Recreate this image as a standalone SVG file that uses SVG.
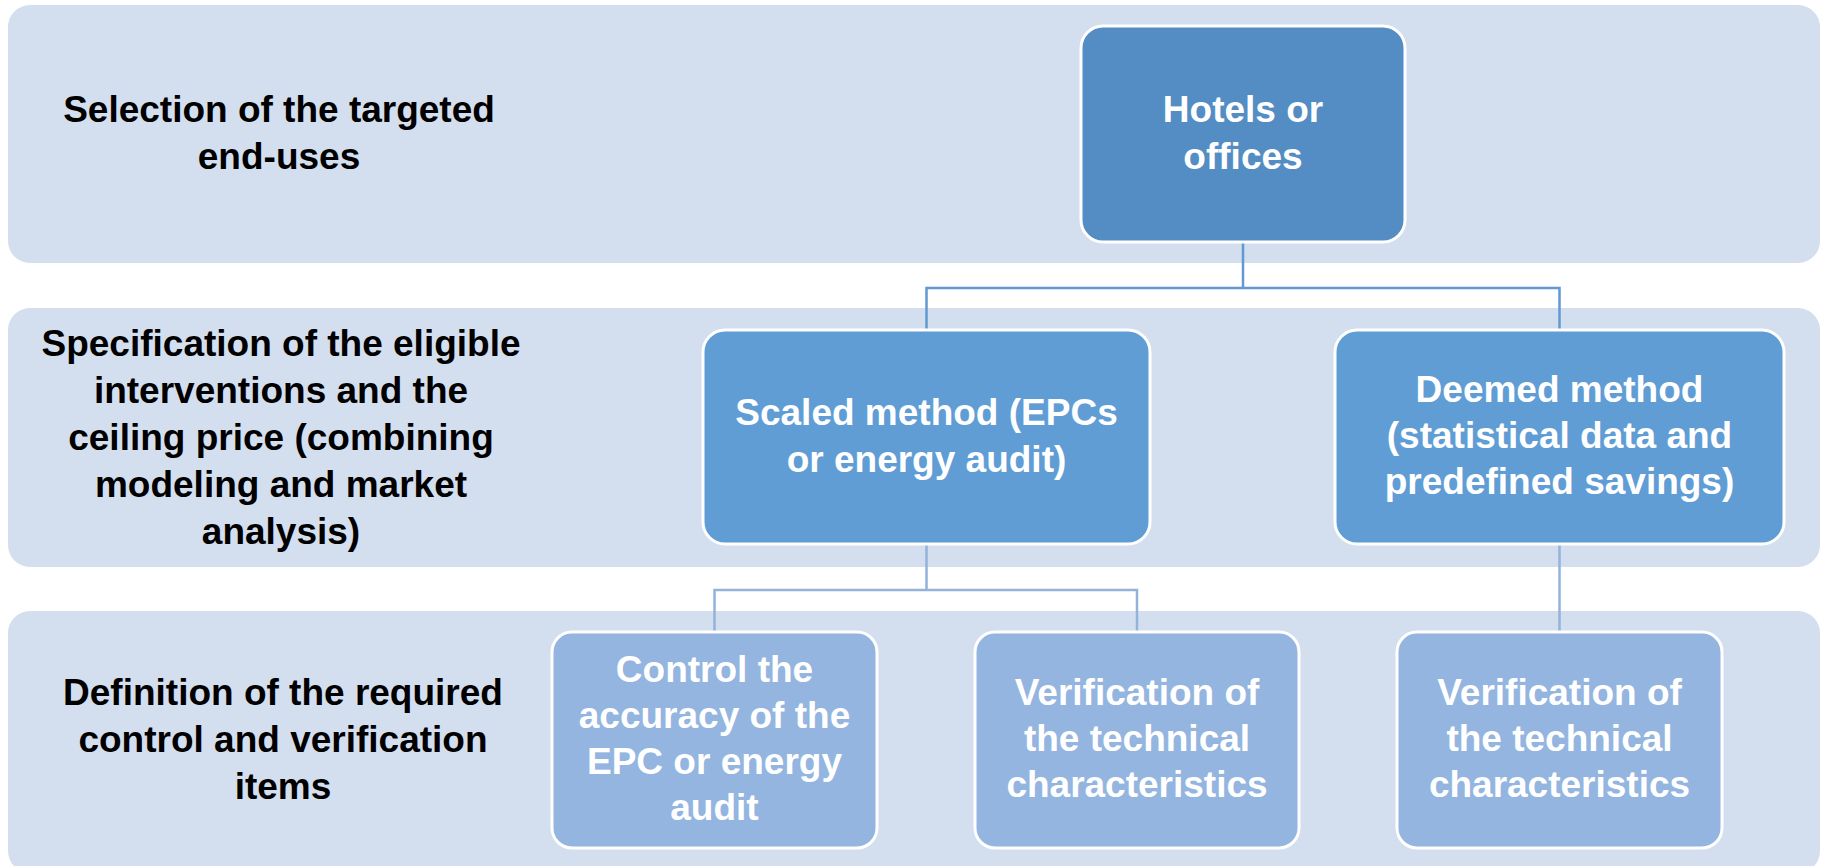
<svg xmlns="http://www.w3.org/2000/svg" width="1827" height="866" viewBox="0 0 1827 866">
<style>
.band{fill:#D3DEEF}
.lbl{font-family:"Liberation Sans",Arial,sans-serif;font-weight:bold;font-size:37px;fill:#000;text-anchor:middle}
.nt{font-family:"Liberation Sans",Arial,sans-serif;font-weight:bold;font-size:37px;fill:#fff;text-anchor:middle}
.n1{fill:#548DC3;stroke:#fff;stroke-width:3}
.n2{fill:#609DD5;stroke:#fff;stroke-width:3}
.n3{fill:#93B5DF;stroke:#fff;stroke-width:3}
.c1{fill:none;stroke:#6299D1;stroke-width:2.5}
.c2{fill:none;stroke:#93B3DB;stroke-width:2.5}
</style>
<rect width="1827" height="866" fill="#fff"/>
<g id="band1"><rect class="band" x="8" y="5" width="1812" height="258" rx="22"/>
<text class="lbl" x="279"><tspan x="279" y="122">Selection of the targeted</tspan><tspan x="279" y="169">end-uses</tspan></text></g>
<g id="band2"><rect class="band" x="8" y="308" width="1812" height="259" rx="22"/>
<text class="lbl"><tspan x="281" y="356">Specification of the eligible</tspan><tspan x="281" y="403">interventions and the</tspan><tspan x="281" y="450">ceiling price (combining</tspan><tspan x="281" y="497">modeling and market</tspan><tspan x="281" y="544">analysis)</tspan></text></g>
<g id="band3"><rect class="band" x="8" y="611" width="1812" height="262" rx="22"/>
<text class="lbl"><tspan x="283" y="705">Definition of the required</tspan><tspan x="283" y="752">control and verification</tspan><tspan x="283" y="799">items</tspan></text></g>
<g id="connectors">
<path class="c1" d="M1243 242V288H926.5V330M1243 288H1559.5V330"/>
<path class="c2" d="M926.5 544V590H714.5V632M926.5 590H1137V632M1559.5 544V632"/>
</g>
<g id="hotels"><rect class="n1" x="1081" y="26" width="324" height="216" rx="22"/>
<text class="nt"><tspan x="1243" y="122">Hotels or</tspan><tspan x="1243" y="169">offices</tspan></text></g>
<g id="scaled"><rect class="n2" x="703" y="330" width="447" height="214" rx="22"/>
<text class="nt"><tspan x="926.5" y="425">Scaled method (EPCs</tspan><tspan x="926.5" y="472">or energy audit)</tspan></text></g>
<g id="deemed"><rect class="n2" x="1335" y="330" width="449" height="214" rx="22"/>
<text class="nt"><tspan x="1559.5" y="402">Deemed method</tspan><tspan x="1559.5" y="448">(statistical data and</tspan><tspan x="1559.5" y="494">predefined savings)</tspan></text></g>
<g id="control"><rect class="n3" x="552" y="632" width="325" height="216" rx="20"/>
<text class="nt"><tspan x="714.5" y="682">Control the</tspan><tspan x="714.5" y="728">accuracy of the</tspan><tspan x="714.5" y="774">EPC or energy</tspan><tspan x="714.5" y="820">audit</tspan></text></g>
<g id="verif1"><rect class="n3" x="975" y="632" width="324" height="216" rx="20"/>
<text class="nt"><tspan x="1137" y="705">Verification of</tspan><tspan x="1137" y="751">the technical</tspan><tspan x="1137" y="797">characteristics</tspan></text></g>
<g id="verif2"><rect class="n3" x="1397" y="632" width="325" height="216" rx="20"/>
<text class="nt"><tspan x="1559.5" y="705">Verification of</tspan><tspan x="1559.5" y="751">the technical</tspan><tspan x="1559.5" y="797">characteristics</tspan></text></g>
</svg>
